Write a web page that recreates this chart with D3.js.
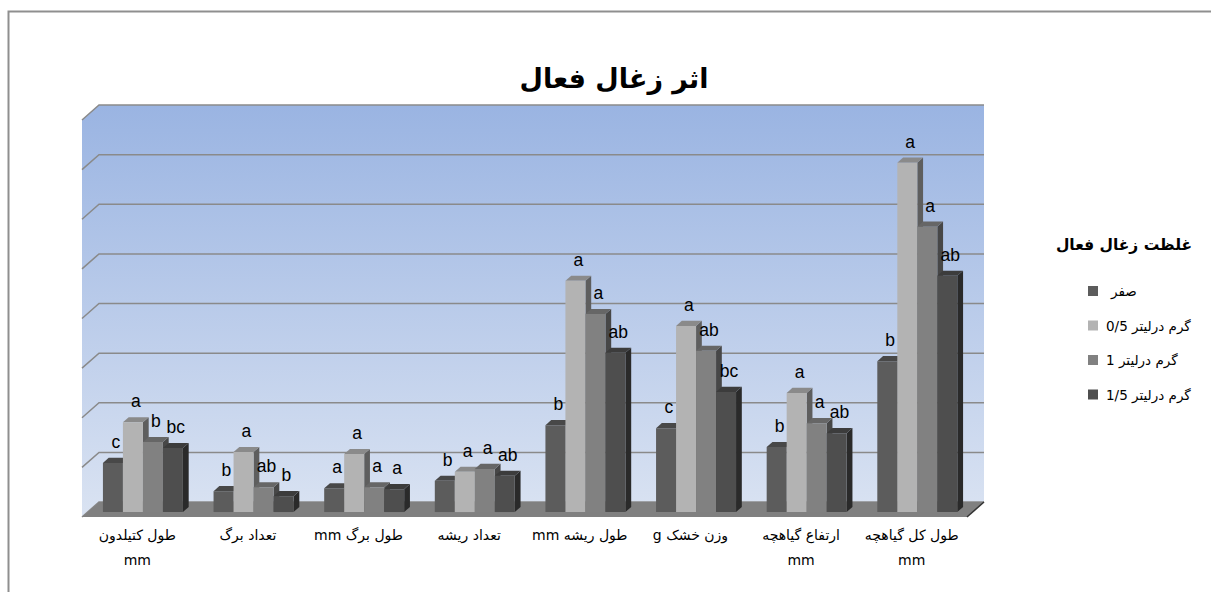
<!DOCTYPE html>
<html lang="fa">
<head>
<meta charset="UTF-8">
<title>اثر زغال فعال</title>
<script src="https://d3js.org/d3.v7.min.js"></script>
<style>
  body { margin: 0; padding: 0; background: #fff; }
  svg { display: block; }
  .title { font-family: "DejaVu Sans", sans-serif; font-weight: bold; font-size: 27px; fill: #000; text-anchor: middle; }
  .legend-title { font-family: "DejaVu Sans", sans-serif; font-weight: bold; font-size: 15.5px; fill: #000; text-anchor: middle; }
  .legend-text { font-family: "DejaVu Sans", sans-serif; font-size: 13.5px; fill: #000; }
  .cat-label { font-family: "DejaVu Sans", sans-serif; font-size: 14px; fill: #000; text-anchor: middle; }
  .letter { font-family: "Liberation Sans", Arial, sans-serif; font-size: 17.5px; fill: #000; text-anchor: middle; }
</style>
</head>
<body>
<svg width="1211" height="592"></svg>
<script>
// categories (each entry = label lines)
const categories = [
  ["طول کتیلدون", "mm"],
  ["تعداد برگ"],
  ["طول برگ  mm"],
  ["تعداد ریشه"],
  ["طول ریشه mm"],
  ["وزن خشک g"],
  ["ارتفاع گیاهچه", "mm"],
  ["طول کل گیاهچه", "mm"]
];
const seriesNames = ["صفر", "گرم درلیتر 0/5", "گرم درلیتر 1", "گرم درلیتر 1/5"];

// bar heights (axis is hidden; one gridline = 10 units)
const zero    = [9.9, 4.2, 4.8, 6.3, 17.5, 16.9, 13.1, 30.4];
const half    = [18.1, 12.1, 11.7, 8.1, 46.6, 37.5, 24.0, 70.4];
const one     = [14.1, 5.0, 5.0, 8.7, 39.9, 32.5, 17.9, 57.5];
const oneHalf = [12.9, 3.2, 4.6, 7.3, 32.1, 24.2, 15.9, 47.6];

// significance letters
const zeroLetters    = ["c", "b", "a", "b", "b", "c", "b", "b"];
const halfLetters    = ["a", "a", "a", "a", "a", "a", "a", "a"];
const oneLetters     = ["b", "ab", "a", "a", "a", "ab", "a", "a"];
const oneHalfLetters = ["bc", "b", "a", "ab", "ab", "bc", "ab", "ab"];

const gridTicks = [0, 10, 20, 30, 40, 50, 60, 70, 80];

const series = [zero, half, one, oneHalf];
const letters = [zeroLetters, halfLetters, oneLetters, oneHalfLetters];

const frontCol = ["#5c5c5c", "#b3b3b3", "#818181", "#4e4e4e"];
const topCol   = ["#484848", "#8a8a8a", "#666666", "#3c3c3c"];
const sideCol  = ["#3c3c3c", "#5e5e5e", "#474747", "#2a2a2a"];

const svg = d3.select("svg");

// 3D projection: front-plane x, height in px, depth 0..1
const FLOOR_Y = 517, DX = 17, DY = 15;
const P = (x, h, z) => [x + z * DX, FLOOR_Y - h - z * DY];
const pts = arr => arr.map(p => p.join(",")).join(" ");

const x0 = d3.scaleBand().domain(d3.range(categories.length)).range([82, 967])
  .paddingInner(0.277).paddingOuter(0.1385);
const x1 = d3.scaleBand().domain(d3.range(series.length)).range([0, x0.bandwidth()]);
const y = d3.scaleLinear().domain([0, 80]).range([0, 397]);

const xL = x0.range()[0], xR = x0.range()[1], hMax = y(80);

// outer frame
svg.append("rect").attr("x", 8.5).attr("y", 11.5).attr("width", 1300).attr("height", 700)
  .attr("fill", "none").attr("stroke", "#8f8f8f").attr("stroke-width", 2);

// wall gradient
const defs = svg.append("defs");
const grad = defs.append("linearGradient").attr("id", "wall")
  .attr("gradientUnits", "userSpaceOnUse")
  .attr("x1", 0).attr("y1", P(0, hMax, 1)[1]).attr("x2", 0).attr("y2", P(0, 0, 0)[1]);
grad.append("stop").attr("offset", 0).attr("stop-color", "#9ab4e2");
grad.append("stop").attr("offset", 1).attr("stop-color", "#dae3f2");

// back wall and left wall
svg.append("polygon")
  .attr("points", pts([P(xL, 0, 1), P(xR, 0, 1), P(xR, hMax, 1), P(xL, hMax, 1)]))
  .attr("fill", "url(#wall)");
svg.append("polygon")
  .attr("points", pts([P(xL, 0, 0), P(xL, 0, 1), P(xL, hMax, 1), P(xL, hMax, 0)]))
  .attr("fill", "url(#wall)");

// gridlines
svg.selectAll(".grid").data(gridTicks).enter().append("polyline")
  .attr("class", "grid")
  .attr("points", d => pts([P(xL, y(d), 0), P(xL, y(d), 1), P(xR, y(d), 1)]))
  .attr("fill", "none").attr("stroke", "#8a8a8a").attr("stroke-width", 1.5);

// floor
svg.append("polygon")
  .attr("points", pts([P(xL, 0, 0), P(xR, 0, 0), P(xR, 0, 1), P(xL, 0, 1)]))
  .attr("fill", "#808080");
svg.append("line")
  .attr("x1", P(xR, 0, 0)[0]).attr("y1", P(xR, 0, 0)[1])
  .attr("x2", P(xR, 0, 1)[0]).attr("y2", P(xR, 0, 1)[1])
  .attr("stroke", "#333").attr("stroke-width", 1.5);

// bars
const z0 = 0.33, z1 = 0.67;
const bars = [];
categories.forEach((c, i) => {
  series.forEach((s, k) => {
    bars.push({ i, k, v: s[i], letter: letters[k][i] });
  });
});

const barG = svg.selectAll(".bar").data(bars).enter().append("g").attr("class", "bar");
barG.each(function(d) {
  const g = d3.select(this);
  const xa = x0(d.i) + x1(d.k), xb = xa + x1.bandwidth(), h = y(d.v);
  g.append("polygon").attr("points", pts([P(xb, 0, z0), P(xb, 0, z1), P(xb, h, z1), P(xb, h, z0)]))
    .attr("fill", sideCol[d.k]);
  g.append("polygon").attr("points", pts([P(xa, h, z0), P(xb, h, z0), P(xb, h, z1), P(xa, h, z1)]))
    .attr("fill", topCol[d.k]);
  g.append("polygon").attr("points", pts([P(xa, 0, z0), P(xb, 0, z0), P(xb, h, z0), P(xa, h, z0)]))
    .attr("fill", frontCol[d.k]);
});

// letters above bars
svg.selectAll(".letter").data(bars).enter().append("text")
  .attr("class", "letter")
  .attr("x", d => P(x0(d.i) + x1(d.k) + x1.bandwidth() / 2, 0, 0.5)[0])
  .attr("y", d => P(0, y(d.v), z0)[1] - 15)
  .text(d => d.letter);

// category labels
const catLab = svg.selectAll(".cat-label").data(categories).enter().append("text")
  .attr("class", "cat-label")
  .attr("direction", "rtl")
  .attr("x", (d, i) => x0(i) + x0.bandwidth() / 2)
  .attr("y", 540);
catLab.selectAll("tspan").data(d => d).enter().append("tspan")
  .attr("x", function() { return d3.select(this.parentNode).attr("x"); })
  .attr("dy", (d, j) => j === 0 ? 0 : 25)
  .text(d => d);

// title
svg.append("text").attr("class", "title").attr("x", 614).attr("y", 88).text("اثر زغال فعال");

// legend
svg.append("text").attr("class", "legend-title").attr("x", 1124).attr("y", 250).text("غلظت زغال فعال");
const leg = svg.selectAll(".leg").data(seriesNames).enter().append("g").attr("class", "leg")
  .attr("transform", (d, k) => `translate(1088,${291 + k * 34.5})`);
leg.append("rect").attr("x", 0).attr("y", -5).attr("width", 10).attr("height", 10)
  .attr("fill", (d, k) => frontCol[k]);
leg.append("text").attr("class", "legend-text")
  .attr("direction", "rtl").attr("text-anchor", "end")
  .attr("x", (d, k) => k === 0 ? 23 : 18).attr("y", 5)
  .text(d => d);
</script>
</body>
</html>
